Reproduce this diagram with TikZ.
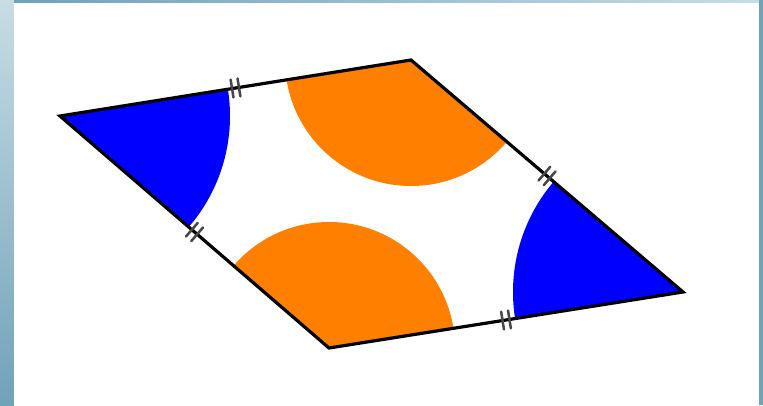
\documentclass[tikz,border=0pt]{standalone}
\usetikzlibrary{calc}
\definecolor{bgblue}{RGB}{112,162,184}
\definecolor{bglight}{RGB}{200,220,228}
\definecolor{sectorblue}{RGB}{0,0,255}
\definecolor{sectororange}{RGB}{255,128,0}
\definecolor{tickgray}{RGB}{70,70,70}
\tikzset{
  edge/.style={line width=3.2pt,line join=miter,black},
  ticksty/.style={line width=2.5pt,tickgray,line cap=round},
}
\newcommand{\dtick}[2]{%
  \coordinate (mm) at ($(#1)!0.5!(#2)$);
  \coordinate (ma) at ($(mm)!3.5pt!(#2)$);
  \coordinate (mb) at ($(mm)!-3.5pt!(#2)$);
  \draw[ticksty] ($(ma)!9pt!90:(#2)$) -- ($(ma)!9pt!-90:(#2)$);
  \draw[ticksty] ($(mb)!9pt!90:(#2)$) -- ($(mb)!9pt!-90:(#2)$);
}
\begin{document}
\begin{tikzpicture}[x=1pt,y=-1pt]
\useasboundingbox (0,0) rectangle (763,405);
% background
\shade[top color=bglight,bottom color=bgblue] (0,0) rectangle (14,405);
\shade[left color=bgblue,right color=bglight] (14,0) rectangle (763,3);
\fill[bgblue] (759,0) rectangle (763,405);
\fill[white] (14,3) rectangle (759,405);
% vertices
\coordinate (A) at (60,116);
\coordinate (B) at (411,60);
\coordinate (C) at (683,292);
\coordinate (D) at (329,348);
% sectors
\begin{scope}
  \clip (A) -- (B) -- (C) -- (D) -- cycle;
  \fill[sectorblue] (A) circle (170pt);
  \fill[sectorblue] (C) circle (170pt);
  \fill[sectororange] (B) circle (126pt);
  \fill[sectororange] (D) circle (126pt);
\end{scope}
% rhombus
\draw[edge] (A) -- (B) -- (C) -- (D) -- cycle;
% ticks
\dtick{A}{B}
\dtick{B}{C}
\dtick{D}{C}
\dtick{A}{D}
\end{tikzpicture}
\end{document}
